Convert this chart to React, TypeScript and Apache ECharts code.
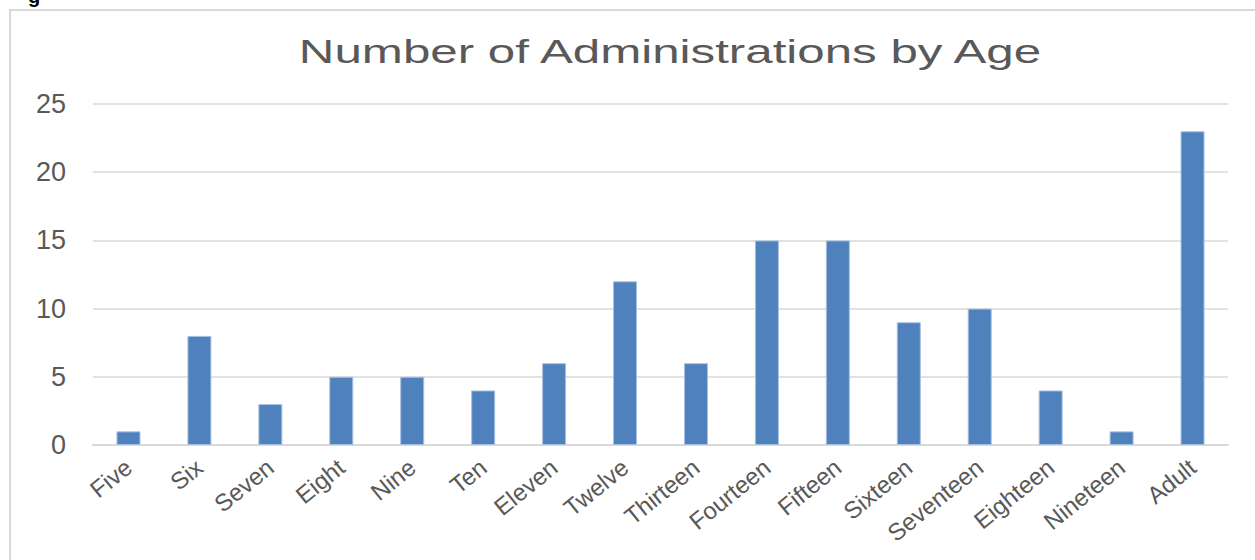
import React, { useEffect, useRef } from "react";
import * as echarts from "echarts";

const categories = ["Five", "Six", "Seven", "Eight", "Nine", "Ten", "Eleven", "Twelve", "Thirteen", "Fourteen", "Fifteen", "Sixteen", "Seventeen", "Eighteen", "Nineteen", "Adult"];
const counts = [1, 8, 3, 5, 5, 4, 6, 12, 6, 15, 15, 9, 10, 4, 1, 23];
const titleText = "Number of Administrations by Age";

export default function App() {
  const ref = useRef<HTMLDivElement>(null);
  useEffect(() => {
    if (!ref.current) return;
    const chart = echarts.init(ref.current, undefined, { renderer: "svg" });
    const font = "'Liberation Sans', Arial, Helvetica, sans-serif";
    chart.setOption({
      animation: false,
      backgroundColor: "#ffffff",
      graphic: [
        {
          type: "rect",
          shape: { x: 10, y: 10, width: 1300, height: 600 },
          style: { fill: "none", stroke: "#d9d9d9", lineWidth: 2 },
          z: 0,
        },
        {
          type: "text",
          x: 28,
          y: 6,
          style: { text: "g", font: "bold 20px " + font, fill: "#000", verticalAlign: "bottom" },
        },
        {
          type: "text",
          x: 670,
          y: 51,
          scaleX: 1.45,
          originX: 0,
          style: { text: titleText, font: "34px " + font, fill: "#595959", align: "center", verticalAlign: "middle" },
        },
      ],
      grid: { left: 93, right: 27, top: 104, bottom: 115, containLabel: false },
      xAxis: {
        type: "category",
        data: categories,
        axisLine: { lineStyle: { color: "#d9d9d9", width: 2 } },
        axisTick: { show: false },
        axisLabel: { rotate: 39, color: "#595959", fontSize: 24, fontFamily: font, margin: 19, interval: 0 },
      },
      yAxis: {
        type: "value",
        min: 0,
        max: 25,
        interval: 5,
        axisLine: { show: false },
        axisTick: { show: false },
        splitLine: { lineStyle: { color: "#d9d9d9", width: 1.5 } },
        axisLabel: { color: "#595959", fontSize: 27, fontFamily: font, margin: 27 },
      },
      series: [
        {
          type: "bar",
          data: counts,
          barWidth: 24,
          itemStyle: { color: "#4f81bd", borderColor: "#a8c0e2", borderWidth: 1 },
        },
      ],
    });
    return () => chart.dispose();
  }, []);
  return <div ref={ref} style={{ position: "absolute", left: 0, top: 0, width: 1255, height: 560 }} />;
}
